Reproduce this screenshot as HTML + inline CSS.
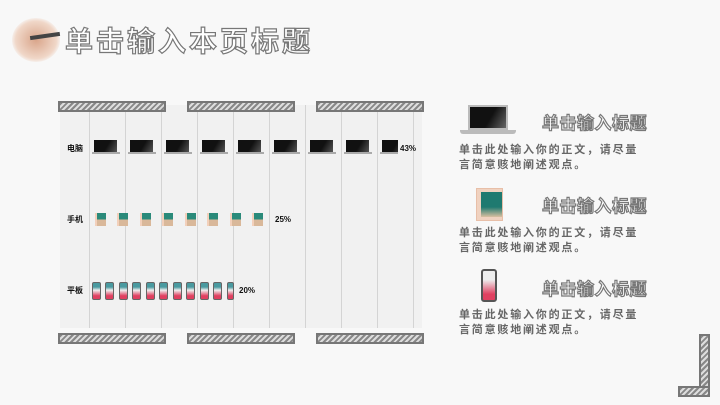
<!DOCTYPE html>
<html><head><meta charset="utf-8"><style>
*{margin:0;padding:0;box-sizing:border-box}
body{width:720px;height:405px;background:#f8f8f8;position:relative;overflow:hidden;font-family:"Liberation Sans","Noto Sans CJK SC",sans-serif}
.a{position:absolute}
.hatch{position:absolute;height:11px;border:2px solid #777;background:repeating-linear-gradient(135deg,#888 0 2px,#ddd 2px 4px)}
.vl{position:absolute;top:105px;height:223px;width:1px;background:#d4d4d4}
.out{color:#fff;-webkit-text-stroke:1.2px #777;font-weight:bold}
.lap{position:absolute;width:28px;height:15px}
.lap i{position:absolute;left:2px;top:0;width:23px;height:12px;background:linear-gradient(120deg,#111 55%,#555)}
.lap b{position:absolute;left:0;top:12px;width:28px;height:2px;background:#aaa}
.tab{position:absolute;width:11px;height:13px;background:linear-gradient(#2a8a7a 50%,#d9b89a 50%);border-left:2px solid #f2d0bb}
.ph{position:absolute;width:9px;height:18px;border:1px solid #666;border-radius:2px;background:linear-gradient(#4a9aa0 25%,#eee 45%,#e04060 80%)}
.lbl{position:absolute;font-size:8px;font-weight:bold;color:#111}
.t{position:absolute;font-size:17px;left:542px;letter-spacing:0.5px}
.p{position:absolute;left:459px;font-size:11px;color:#666;letter-spacing:1.8px;line-height:15px;white-space:nowrap;font-weight:bold}
</style></head><body>
<div class="a" style="left:12px;top:18px;width:48px;height:44px;border-radius:50%;background:radial-gradient(#d9a58a,#f0d7c8 60%,transparent 75%)"></div>
<div class="a" style="left:30px;top:34px;width:30px;height:4px;background:#444;transform:rotate(-8deg)"></div>
<div class="a out" style="left:65px;top:20px;font-size:28px;letter-spacing:3px">单击输入本页标题</div>

<div class="a" style="left:60px;top:105px;width:362px;height:223px;background:#f1f1f1"></div>
<div class="vl" style="left:89px"></div><div class="vl" style="left:125px"></div><div class="vl" style="left:161px"></div><div class="vl" style="left:197px"></div><div class="vl" style="left:233px"></div><div class="vl" style="left:269px"></div><div class="vl" style="left:305px"></div><div class="vl" style="left:341px"></div><div class="vl" style="left:377px"></div><div class="vl" style="left:413px"></div>

<div class="hatch" style="left:58px;top:101px;width:108px"></div>
<div class="hatch" style="left:187px;top:101px;width:108px"></div>
<div class="hatch" style="left:316px;top:101px;width:108px"></div>
<div class="hatch" style="left:58px;top:333px;width:108px"></div>
<div class="hatch" style="left:187px;top:333px;width:108px"></div>
<div class="hatch" style="left:316px;top:333px;width:108px"></div>

<div class="lbl" style="left:67px;top:143px">电脑</div>
<div class="lbl" style="left:67px;top:214px">手机</div>
<div class="lbl" style="left:67px;top:285px">平板</div>

<div class="lap" style="left:92px;top:140px"><i></i><b></b></div>
<div class="lap" style="left:128px;top:140px"><i></i><b></b></div>
<div class="lap" style="left:164px;top:140px"><i></i><b></b></div>
<div class="lap" style="left:200px;top:140px"><i></i><b></b></div>
<div class="lap" style="left:236px;top:140px"><i></i><b></b></div>
<div class="lap" style="left:272px;top:140px"><i></i><b></b></div>
<div class="lap" style="left:308px;top:140px"><i></i><b></b></div>
<div class="lap" style="left:344px;top:140px"><i></i><b></b></div>
<div class="lap" style="left:380px;top:140px;width:18px;overflow:hidden"><i></i><b></b></div>
<div class="lbl" style="left:400px;top:144px">43%</div>

<div class="tab" style="left:95px;top:213px"></div><div class="tab" style="left:117px;top:213px"></div><div class="tab" style="left:140px;top:213px"></div><div class="tab" style="left:162px;top:213px"></div><div class="tab" style="left:185px;top:213px"></div><div class="tab" style="left:207px;top:213px"></div><div class="tab" style="left:230px;top:213px"></div><div class="tab" style="left:252px;top:213px"></div>
<div class="lbl" style="left:275px;top:215px">25%</div>

<div class="ph" style="left:92px;top:282px"></div><div class="ph" style="left:105px;top:282px"></div><div class="ph" style="left:119px;top:282px"></div><div class="ph" style="left:132px;top:282px"></div><div class="ph" style="left:146px;top:282px"></div><div class="ph" style="left:159px;top:282px"></div><div class="ph" style="left:173px;top:282px"></div><div class="ph" style="left:186px;top:282px"></div><div class="ph" style="left:200px;top:282px"></div><div class="ph" style="left:213px;top:282px"></div><div class="ph" style="left:227px;top:282px;width:7px"></div>
<div class="lbl" style="left:239px;top:286px">20%</div>

<div class="a" style="left:468px;top:105px;width:40px;height:25px;background:linear-gradient(120deg,#111 55%,#666);border:2px solid #bbb"></div>
<div class="a" style="left:460px;top:130px;width:56px;height:4px;background:#bbb;border-radius:0 0 3px 3px"></div>
<div class="t out" style="top:109px">单击输入标题</div>
<div class="p" style="top:143px">单击此处输入你的正文，请尽量<br>言简意赅地阐述观点。</div>

<div class="a" style="left:476px;top:188px;width:27px;height:33px;background:#f0d2c0;border:1px solid #e8bfa8"></div>
<div class="a" style="left:481px;top:192px;width:21px;height:25px;background:linear-gradient(#1f7a70 60%,#d9c0a0)"></div>
<div class="t out" style="top:192px">单击输入标题</div>
<div class="p" style="top:226px">单击此处输入你的正文，请尽量<br>言简意赅地阐述观点。</div>

<div class="a" style="left:481px;top:269px;width:16px;height:33px;border:2px solid #555;border-radius:3px;background:linear-gradient(#eee 30%,#e04060 80%)"></div>
<div class="t out" style="top:275px">单击输入标题</div>
<div class="p" style="top:308px">单击此处输入你的正文，请尽量<br>言简意赅地阐述观点。</div>

<div class="a" style="left:699px;top:334px;width:11px;height:63px;border:2px solid #777;background:repeating-linear-gradient(135deg,#888 0 2px,#ddd 2px 4px)"></div>
<div class="a" style="left:678px;top:386px;width:32px;height:11px;border:2px solid #777;background:repeating-linear-gradient(135deg,#888 0 2px,#ddd 2px 4px)"></div>
</body></html>
